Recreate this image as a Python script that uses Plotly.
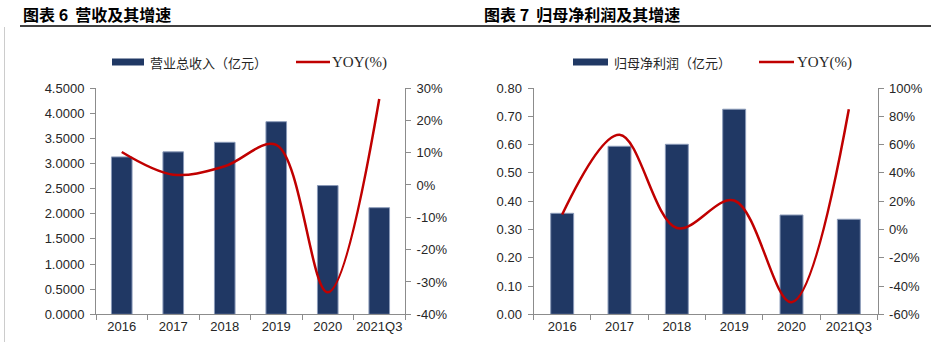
import plotly.graph_objects as go

# ---------------- data ----------------
categories = ["2016", "2017", "2018", "2019", "2020", "2021Q3"]

revenue = [3.13, 3.23, 3.42, 3.83, 2.56, 2.12]            # 营业总收入（亿元）
revenue_yoy = [0.102, 0.032, 0.058, 0.124, -0.332, 0.266]  # YOY

profit = [0.357, 0.594, 0.601, 0.725, 0.351, 0.336]        # 归母净利润（亿元）
profit_yoy = [0.106, 0.670, 0.010, 0.205, -0.515, 0.850]   # YOY

left_y_vals = [0, 0.5, 1.0, 1.5, 2.0, 2.5, 3.0, 3.5, 4.0, 4.5]
left_y_text = ["0.0000", "0.5000", "1.0000", "1.5000", "2.0000", "2.5000",
               "3.0000", "3.5000", "4.0000", "4.5000"]
left_y2_vals = [-0.4, -0.3, -0.2, -0.1, 0, 0.1, 0.2, 0.3]
left_y2_text = ["-40%", "-30%", "-20%", "-10%", "0%", "10%", "20%", "30%"]

right_y_vals = [0, 0.1, 0.2, 0.3, 0.4, 0.5, 0.6, 0.7, 0.8]
right_y_text = ["0.00", "0.10", "0.20", "0.30", "0.40", "0.50", "0.60", "0.70", "0.80"]
right_y2_vals = [-0.6, -0.4, -0.2, 0, 0.2, 0.4, 0.6, 0.8, 1.0]
right_y2_text = ["-60%", "-40%", "-20%", "0%", "20%", "40%", "60%", "80%", "100%"]

title_left = "图表 6  营收及其增速"
title_right = "图表 7  归母净利润及其增速"
legend_bar_left = "营业总收入（亿元）"
legend_bar_right = "归母净利润（亿元）"
legend_line = "YOY(%)"

# ---------------- style ----------------
W, H = 931, 342
NAVY = "#203864"
RED = "#C00000"
AXIS = "#8c8c8c"
TXT = "#262626"
SANS = "Liberation Sans, Arial, sans-serif"
CJK = "Noto Sans CJK SC, sans-serif"
SERIF = "Liberation Serif, Times New Roman, serif"

def px_x(x):
    return x / W

def px_y(y):
    return 1 - y / H

y_dom = [px_y(314.3), px_y(88)]
x_dom_l = [px_x(96), px_x(405)]
x_dom_r = [px_x(533.5), px_x(877.5)]

fig = go.Figure()

fig.add_trace(go.Bar(x=categories, y=revenue, xaxis="x", yaxis="y",
                     marker=dict(color=NAVY, line=dict(color="#8a9ab8", width=1)),
                     showlegend=False))
fig.add_trace(go.Scatter(x=categories, y=revenue_yoy, xaxis="x", yaxis="y2",
                         mode="lines", line=dict(color=RED, width=2.5, shape="spline", smoothing=1),
                         showlegend=False))
fig.add_trace(go.Bar(x=categories, y=profit, xaxis="x2", yaxis="y3",
                     marker=dict(color=NAVY, line=dict(color="#8a9ab8", width=1)),
                     showlegend=False))
fig.add_trace(go.Scatter(x=categories, y=profit_yoy, xaxis="x2", yaxis="y4",
                         mode="lines", line=dict(color=RED, width=2.5, shape="spline", smoothing=1),
                         showlegend=False))

tickfont = dict(family=SANS, size=13, color=TXT)

def xaxis(dom, anchor):
    return dict(domain=dom, anchor=anchor, type="category", showline=True,
                linecolor=AXIS, linewidth=1, ticks="outside", tickson="boundaries",
                ticklen=5, tickcolor=AXIS, tickfont=tickfont, showgrid=False,
                zeroline=False, fixedrange=True, tickangle=0, automargin=False)

def yaxis(anchor, rng, vals, text, side="left", overlay=None):
    d = dict(anchor=anchor, range=rng, tickmode="array", tickvals=vals, ticktext=text,
             showline=True, linecolor=AXIS, linewidth=1, ticks="outside", ticklen=5,
             tickcolor=AXIS, tickfont=tickfont, showgrid=False, zeroline=False,
             side=side, ticklabelstandoff=3, fixedrange=True, automargin=False)
    if overlay:
        d["overlaying"] = overlay
    else:
        d["domain"] = y_dom
    return d

fig.update_layout(
    width=W, height=H,
    margin=dict(l=0, r=0, t=0, b=0),
    paper_bgcolor="white", plot_bgcolor="white",
    bargap=0.6,
    xaxis=xaxis(x_dom_l, "y"),
    yaxis=yaxis("x", [0, 4.5], left_y_vals, left_y_text),
    yaxis2=yaxis("x", [-0.4, 0.3], left_y2_vals, left_y2_text, side="right", overlay="y"),
    xaxis2=xaxis(x_dom_r, "y3"),
    yaxis3=yaxis("x2", [0, 0.8], right_y_vals, right_y_text),
    yaxis4=yaxis("x2", [-0.6, 1.0], right_y2_vals, right_y2_text, side="right", overlay="y3"),
)

shapes = []
annotations = []

# header rule and left border
shapes.append(dict(type="line", xref="paper", yref="paper",
                   x0=px_x(20), x1=1, y0=px_y(26), y1=px_y(26),
                   line=dict(color="#000000", width=1.5)))
shapes.append(dict(type="line", xref="paper", yref="paper",
                   x0=px_x(4.5), x1=px_x(4.5), y0=px_y(27), y1=0,
                   line=dict(color="#cccccc", width=1)))

# titles
annotations.append(dict(text="<b>" + title_left + "</b>", xref="paper", yref="paper",
                        x=px_x(21), y=px_y(14), xanchor="left", yanchor="middle",
                        showarrow=False, font=dict(family=CJK, size=16, color="#000")))
annotations.append(dict(text="<b>" + title_right + "</b>", xref="paper", yref="paper",
                        x=px_x(482), y=px_y(14), xanchor="left", yanchor="middle",
                        showarrow=False, font=dict(family=CJK, size=16, color="#000")))

# manual legends
def legend(rect_x0, rect_x1, text_x, line_x0, line_x1, yoy_x, label):
    yc = 62
    shapes.append(dict(type="rect", xref="paper", yref="paper",
                       x0=px_x(rect_x0), x1=px_x(rect_x1), y0=px_y(yc + 3.5), y1=px_y(yc - 3.5),
                       fillcolor=NAVY, line=dict(width=0)))
    annotations.append(dict(text=label, xref="paper", yref="paper",
                            x=px_x(text_x), y=px_y(yc), xanchor="left", yanchor="middle",
                            showarrow=False, font=dict(family=CJK, size=13, color=TXT)))
    shapes.append(dict(type="line", xref="paper", yref="paper",
                       x0=px_x(line_x0), x1=px_x(line_x1), y0=px_y(yc), y1=px_y(yc),
                       line=dict(color=RED, width=2.5)))
    annotations.append(dict(text=legend_line, xref="paper", yref="paper",
                            x=px_x(yoy_x), y=px_y(yc), xanchor="left", yanchor="middle",
                            showarrow=False, font=dict(family=SERIF, size=15, color=TXT)))

legend(112, 144, 148, 296, 330, 330, legend_bar_left)
legend(573, 608, 612, 759, 794, 795, legend_bar_right)

fig.update_layout(shapes=shapes, annotations=annotations)

fig.write_html("out.html")
